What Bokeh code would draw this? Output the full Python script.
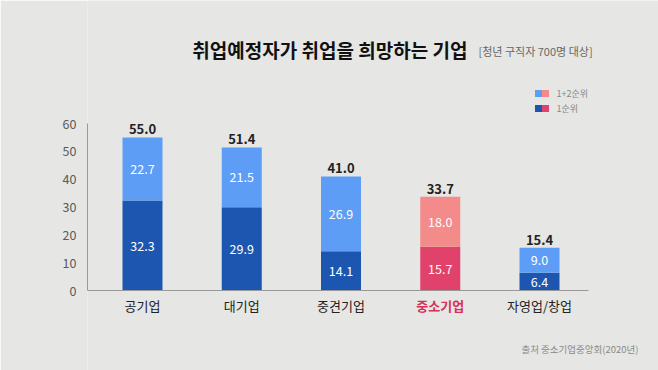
from bokeh.plotting import figure
from bokeh.models import ColumnDataSource, Range1d, LinearAxis, FixedTicker
from bokeh.core.properties import value
from bokeh.embed import file_html
from bokeh.resources import INLINE

# ---- data ----
categories = ["공기업", "대기업", "중견기업", "중소기업", "자영업/창업"]
rank1 = [32.3, 29.9, 14.1, 15.7, 6.4]
rank2 = [22.7, 21.5, 26.9, 18.0, 9.0]
totals = [55.0, 51.4, 41.0, 33.7, 15.4]
highlight = "중소기업"
y_ticks = [0, 10, 20, 30, 40, 50, 60]
title_text = "취업예정자가 취업을 희망하는 기업"
subtitle_text = "[청년 구직자 700명 대상]"
legend_labels = ["1+2순위", "1순위"]
source_text = "출처 중소기업중앙회(2020년)"

# ---- colours ----
BLUE_L, BLUE_D = "#5e9df5", "#1c56b0"
PINK_L, PINK_D = "#f48b8b", "#e0426b"
BG = "#e6e6e4"
FONT = "Noto Sans CJK KR"

# ---- geometry (window pixels -> data) ----
W, H = 658, 370
LEFT = 87
k = (290 - 123) / 60.0          # px per unit on y
step = 99.25                    # px per category
x_start = -(142 - 87) / step
x_end = x_start + (W - LEFT) / step
y_start = -(H - 290) / k
y_end = 290 / k

def X(wx):
    return x_start + (wx - 87) / step

def Y(wy):
    return (290 - wy) / k

xs = list(range(len(categories)))
is_hl = [c == highlight for c in categories]
c1 = [PINK_D if h else BLUE_D for h in is_hl]
c2 = [PINK_L if h else BLUE_L for h in is_hl]
base = [0] * len(categories)

src = ColumnDataSource(dict(
    x=xs, cat=categories, r1=rank1, r2=rank2, tot=totals, base=base,
    top2=[a + b for a, b in zip(rank1, rank2)],
    mid1=[a / 2 for a in rank1],
    mid2=[a + b / 2 for a, b in zip(rank1, rank2)],
    l1=[f"{v:.1f}" for v in rank1],
    l2=[f"{v:.1f}" for v in rank2],
    lt=[f"{v:.1f}" for v in totals],
    c1=c1, c2=c2,
    catcol=["#d63059" if h else "#222222" for h in is_hl],
    catw=["bold" if h else "normal" for h in is_hl],
))

p = figure(width=W, height=H, output_backend="svg", toolbar_location=None,
           x_range=Range1d(x_start, x_end), y_range=Range1d(y_start, y_end),
           min_border_left=LEFT, min_border_right=0, min_border_top=0,
           min_border_bottom=0, y_axis_location=None, x_axis_location=None)
p.background_fill_color = BG
p.border_fill_color = BG
p.outline_line_color = None
p.grid.visible = False

yax = LinearAxis(ticker=FixedTicker(ticks=y_ticks), bounds=(0, 60))
yax.axis_line_color = "#999999"
yax.major_tick_line_color = None
yax.minor_tick_line_color = None
yax.major_label_standoff = 5
yax.major_label_text_font = FONT
yax.major_label_text_font_size = "12.5px"
yax.major_label_text_color = "#5a5a5a"
p.add_layout(yax, "left")

bw = 40 / step
p.vbar(x="x", bottom="base", top="r1", width=bw, fill_color="c1",
       line_color=None, source=src)
p.vbar(x="x", bottom="r1", top="top2", width=bw, fill_color="c2",
       line_color=None, source=src)

# baseline (x axis line)
p.segment(x0=[x_start], y0=[0], x1=[X(588)], y1=[0],
          line_color="#999999", line_width=1)

# segment labels
for col, mid in (("l1", "mid1"), ("l2", "mid2")):
    p.text(x="x", y=mid, text=col, source=src, text_align="center",
           text_baseline="middle", text_color="white",
           text_font=value(FONT), text_font_size="12.5px")
# totals
p.text(x="x", y="tot", text="lt", source=src, text_align="center",
       text_baseline="bottom", y_offset=-3, text_color="#222222",
       text_font=value(FONT), text_font_size="13px", text_font_style="bold")
# category labels
p.text(x="x", y=Y(305), text="cat", source=src, text_align="center",
       text_baseline="middle", text_color="catcol",
       text_font=value(FONT), text_font_size="13px", text_font_style="catw")

# title
p.text(x=[X(467)], y=[Y(49)], text=[title_text], text_align="right",
       text_baseline="middle", text_color="#111111",
       text_font=value(FONT), text_font_size="19px", text_font_style="bold")
p.text(x=[X(478)], y=[Y(50)], text=[subtitle_text], text_align="left",
       text_baseline="middle", text_color="#666666",
       text_font=value(FONT), text_font_size="11px")

# legend
p.scatter(x=[X(538), X(545)], y=[Y(93)] * 2, marker="square", size=7,
          fill_color=[BLUE_L, PINK_L], line_color=None)
p.scatter(x=[X(538), X(545)], y=[Y(108)] * 2, marker="square", size=7,
          fill_color=[BLUE_D, PINK_D], line_color=None)
p.text(x=[X(556)] * 2, y=[Y(93), Y(108)], text=legend_labels,
       text_align="left", text_baseline="middle", text_color="#888888",
       text_font=value(FONT), text_font_size="9px")

# source
p.text(x=[X(638)], y=[Y(348)], text=[source_text], text_align="right",
       text_baseline="middle", text_color="#8a8a8a",
       text_font=value(FONT), text_font_size="9.5px")

open("out.html", "w").write(file_html(p, INLINE))
